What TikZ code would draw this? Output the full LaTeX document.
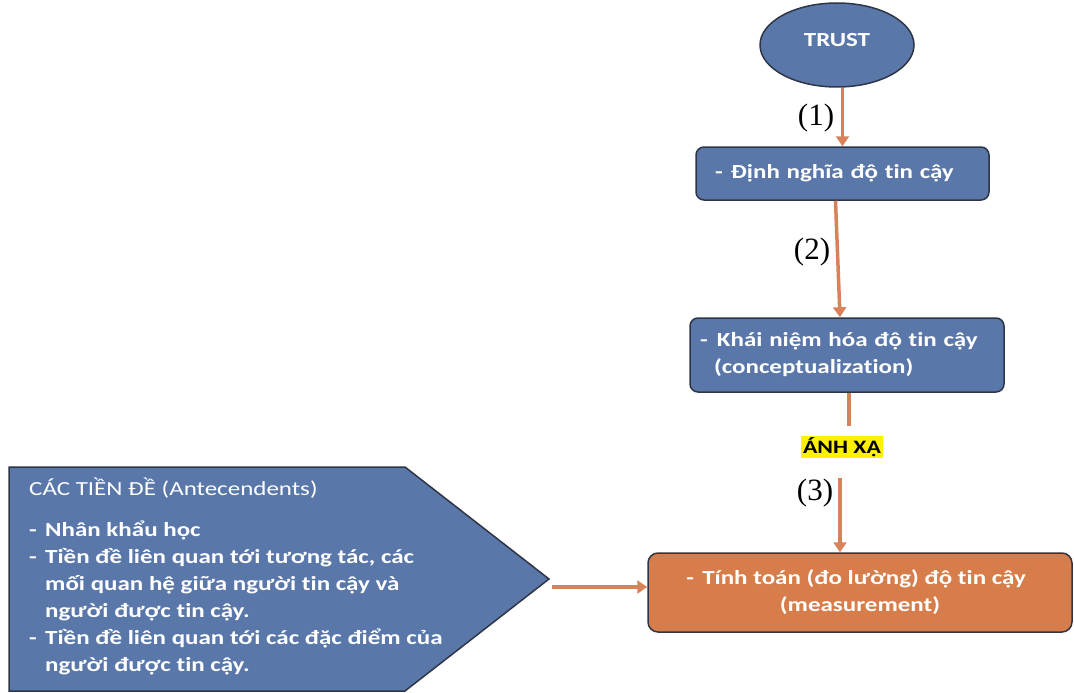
\documentclass[tikz,border=0pt]{standalone}
\usepackage{fontspec}
\setmainfont{Carlito}[FakeStretch=1.25, Ligatures=NoCommon]
\newfontfamily\tnr{Liberation Serif}
\usetikzlibrary{arrows.meta,shapes.geometric}
\definecolor{boxblue}{HTML}{5A77AA}
\definecolor{boxline}{HTML}{2E3646}
\definecolor{boxorange}{HTML}{D67D4B}
\definecolor{arrorange}{HTML}{D8825A}
\newcommand\dsh[1][16pt]{\makebox[#1][l]{-}}
\begin{document}
\begin{tikzpicture}[x=1pt,y=-1pt,
  every node/.style={font=\bfseries\fontsize{20}{27}\selectfont},
  bluebox/.style={draw=boxline, line width=1.5pt, fill=boxblue, text=white, rounded corners=8pt, inner sep=0pt},
  orangebox/.style={draw=boxline, line width=1.5pt, fill=boxorange, text=white, rounded corners=10pt, inner sep=0pt},
  conn/.style={draw=arrorange, line width=3.5pt, -{Triangle[width=13pt,length=10pt]}},
  link/.style={draw=arrorange, line width=3.5pt},
  num/.style={font=\tnr\fontsize{31}{31}\selectfont, inner sep=0pt}]
\useasboundingbox (0,0) rectangle (1074,693);

% top ellipse
\node[ellipse, draw=boxline, line width=1.5pt, fill=boxblue, minimum width=154pt, minimum height=84pt, inner sep=0pt] (trust) at (837,45) {};
\node[text=white, inner sep=0pt] (trusttxt) at (837,40) {TRUST};

% boxes
\node[bluebox, minimum width=293pt, minimum height=53pt, text width=255pt, align=left] (def) at (842.5,173.5) {\dsh Định nghĩa độ tin cậy};
\node[bluebox, minimum width=314pt, minimum height=74pt, text width=294pt, align=left] (concept) at (847,355) {\dsh[17pt]Khái niệm hóa độ tin cậy\\\hspace*{14pt}(conceptualization)};
\node[fill=yellow, inner xsep=2pt, inner ysep=1pt, font=\bfseries\fontsize{19}{19}\selectfont] (anh) at (842,447) {ÁNH XẠ};
\node[orangebox, minimum width=424pt, minimum height=79pt, align=center] (meas) at (860,592.5) {\hspace*{-8pt}\dsh Tính toán (đo lường) độ tin cậy\\(measurement)};

% pentagon arrow
\draw[draw=boxline, line width=1.5pt, fill=boxblue] (9,467) -- (405,467) -- (549,579) -- (405,691) -- (9,691) -- cycle;
\node[text=white, anchor=north west, align=left, inner sep=0pt] (ante) at (29,478) {{\mdseries CÁC TIỀN ĐỀ (Antecendents)}\\[14pt]
\dsh Nhân khẩu học\\
\dsh Tiền đề liên quan tới tương tác, các\\
\hspace*{16pt}mối quan hệ giữa người tin cậy và\\
\hspace*{16pt}người được tin cậy.\\
\dsh Tiền đề liên quan tới các đặc điểm của\\
\hspace*{16pt}người được tin cậy.};

% connectors
\coordinate (mapa) at (849,426);
\coordinate (mapb) at (840,478);
\coordinate (antestart) at (552,587);
\draw[conn] (trust.south -| def.north) -- (def.north);
\draw[conn] ([xshift=-7pt]def.south) -- ([xshift=-7pt]concept.north);
\draw[link] (concept.south -| mapa) -- (mapa);
\draw[conn] (mapb) -- (mapb |- meas.north);
\draw[conn] (antestart) -- (antestart -| meas.west);

% labels
\node[num] (n1) at (816,118) {(1)};
\node[num] (n2) at (812,252) {(2)};
\node[num] (n3) at (815,493) {(3)};
\end{tikzpicture}
\end{document}
